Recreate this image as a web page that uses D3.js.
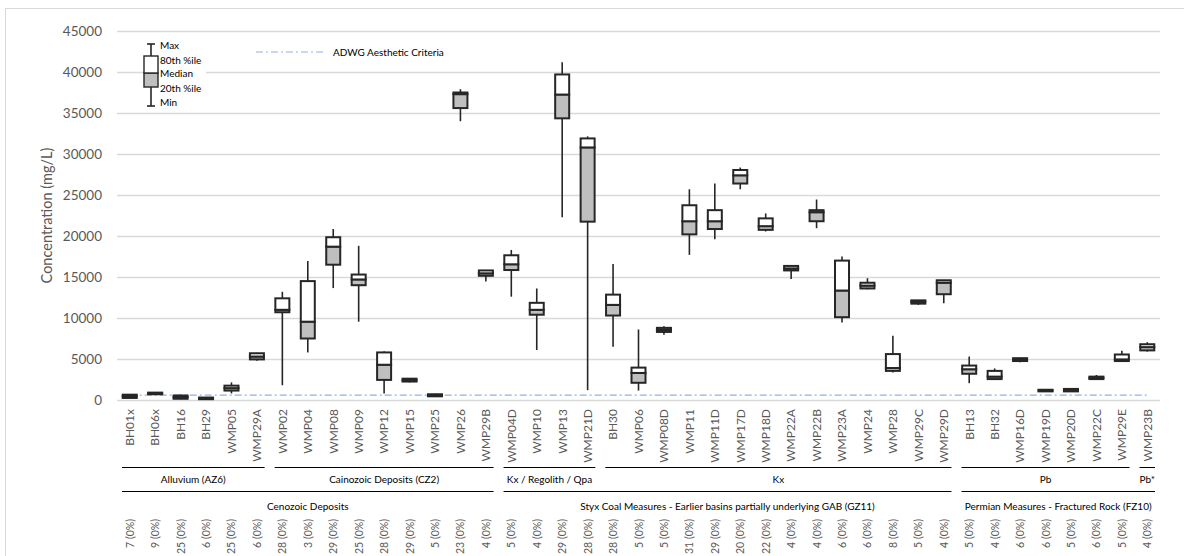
<!DOCTYPE html>
<html>
<head>
<meta charset="utf-8">
<script src="https://cdn.jsdelivr.net/npm/d3@7"></script>
<style>
  html, body { margin: 0; padding: 0; background: #fff; }
  svg { display: block; }
</style>
</head>
<body>
<svg id="chart" width="1184" height="556"></svg>
<script>
// Monitoring bores, in display order
const categories = [
  "BH01x","BH06x","BH16","BH29","WMP05","WMP29A",
  "WMP02","WMP04","WMP08","WMP09","WMP12","WMP15","WMP25","WMP26","WMP29B",
  "WMP04D","WMP10","WMP13","WMP21D",
  "BH30","WMP06","WMP08D","WMP11","WMP11D","WMP17D","WMP18D","WMP22A","WMP22B","WMP23A","WMP24","WMP28","WMP29C","WMP29D",
  "BH13","BH32","WMP16D","WMP19D","WMP20D","WMP22C","WMP29E",
  "WMP23B"
];

// Concentration statistics (mg/L)
const minVals = [
  200, 650, 100, 50, 800, 4800,
  1800, 5800, 13650, 9550, 800, 2150, 400, 34000, 14450,
  12600, 6100, 22300, 1200,
  6500, 1150, 7950, 17700, 19600, 25700, 20550, 14750, 20950, 9450, 13500, 3350, 11600, 11800,
  2050, 2550, 4600, 1000, 1000, 2500, 4700,
  5900
];
const p20Vals = [
  250, 700, 150, 100, 1150, 4950,
  10700, 7500, 16500, 14000, 2450, 2250, 450, 35600, 15150,
  15850, 10400, 34350, 21750,
  10300, 2100, 8300, 20200, 20850, 26400, 20750, 15800, 21800, 10100, 13600, 3550, 11750, 12900,
  3200, 2550, 4750, 1050, 1050, 2550, 4750,
  6050
];
const medianVals = [
  450, 800, 350, 200, 1450, 5300,
  11000, 9550, 18700, 14700, 4300, 2400, 550, 37300, 15450,
  16550, 11000, 37250, 30800,
  11600, 3300, 8550, 21800, 21800, 27400, 21200, 16050, 22900, 13350, 13950, 3900, 12000, 14300,
  3750, 2850, 4950, 1150, 1200, 2700, 4950,
  6450
];
const p80Vals = [
  650, 900, 550, 300, 1750, 5700,
  12400, 14500, 19850, 15300, 5800, 2600, 700, 37500, 15800,
  17650, 11850, 39700, 31900,
  12850, 3950, 8800, 23750, 23150, 28050, 22150, 16350, 23150, 17000, 14300, 5600, 12150, 14600,
  4200, 3550, 5100, 1250, 1350, 2850, 5550,
  6800
];
const maxVals = [
  700, 950, 650, 330, 2150, 5750,
  13200, 16950, 20850, 18800, 5950, 2650, 750, 37900, 15850,
  18300, 13600, 41200, 32150,
  16600, 8600, 9000, 25700, 26400, 28350, 22750, 16400, 24450, 17500, 14850, 7850, 12200, 14650,
  5300, 3850, 5150, 1300, 1400, 3050, 6000,
  7050
];
// Number of samples per bore (and share below detection)
const sampleCounts = [
  7, 9, 25, 6, 25, 6,
  28, 3, 29, 25, 28, 29, 5, 23, 4,
  5, 4, 29, 28,
  28, 5, 5, 31, 29, 20, 22, 4, 4, 6, 6, 8, 5, 4,
  5, 4, 6, 6, 5, 6, 5,
  4
];

// Geological units (first tier) and groundwater systems (second tier)
const unitNames  = ["Alluvium (AZ6)", "Cainozoic Deposits (CZ2)", "Kx / Regolith / Qpa", "Kx", "Pb", "Pb*"];
const unitFirst  = ["BH01x", "WMP02", "WMP04D", "BH30", "BH13", "WMP23B"];
const unitLast   = ["WMP29A", "WMP29B", "WMP21D", "WMP29D", "WMP29E", "WMP23B"];
const systemNames = ["Cenozoic Deposits", "Styx Coal Measures - Earlier basins partially underlying GAB (GZ11)", "Permian Measures - Fractured Rock (FZ10)"];
const systemFirst = ["BH01x", "WMP04D", "BH13"];
const systemLast  = ["WMP29B", "WMP29D", "WMP23B"];

const yTicks = [0, 5000, 10000, 15000, 20000, 25000, 30000, 35000, 40000, 45000];
const adwgAesthetic = 600;

// ---- drawing ----
const svg = d3.select("#chart");
const plot = { left: 117, right: 1160, top: 31, bottom: 400 };
const gridColor = "#d9d9d9";
const boxStroke = "#262626";
const axisText = "#595959";
const font = "Lato, 'Open Sans', sans-serif";

const x = d3.scaleBand().domain(categories).range([plot.left, plot.right]).padding(0);
const y = d3.scaleLinear().domain([0, 45000]).range([plot.bottom, plot.top]);
const boxW = 14;
const cx = d => x(d) + x.bandwidth() / 2;

// chart frame
svg.append("rect")
  .attr("x", 5.5).attr("y", 8.5).attr("width", 1200).attr("height", 600)
  .attr("fill", "none").attr("stroke", gridColor).attr("stroke-width", 1);

// y axis with gridlines
const yAxis = svg.append("g")
  .attr("transform", `translate(${plot.left},0)`)
  .call(d3.axisLeft(y).tickValues(yTicks).tickFormat(d3.format("d"))
    .tickSize(-(plot.right - plot.left)).tickPadding(15));
yAxis.select(".domain").remove();
yAxis.selectAll(".tick line").attr("stroke", gridColor).attr("stroke-width", 1.3);
yAxis.selectAll(".tick text")
  .attr("fill", axisText).style("font-family", font).style("font-size", "13.5px");

svg.append("text")
  .attr("transform", `translate(52,${(plot.top + plot.bottom) / 2}) rotate(-90)`)
  .attr("text-anchor", "middle")
  .attr("fill", axisText).style("font-family", font).style("font-size", "14.5px")
  .text("Concentration (mg/L)");

// ADWG aesthetic criterion
const adwgStyle = { stroke: "#8db4e2", dash: "7,3,2,3" };
svg.append("line")
  .attr("x1", cx(categories[0])).attr("x2", cx(categories[categories.length - 1]))
  .attr("y1", y(adwgAesthetic)).attr("y2", y(adwgAesthetic))
  .attr("stroke", adwgStyle.stroke).attr("stroke-width", 1.2)
  .attr("stroke-dasharray", adwgStyle.dash);

// box plot records
const stats = categories.map((c, i) => ({
  name: c, min: minVals[i], p20: p20Vals[i], med: medianVals[i], p80: p80Vals[i], max: maxVals[i], n: sampleCounts[i]
}));

const boxes = svg.append("g");
// whiskers
boxes.selectAll("line.whisker").data(stats).join("line")
  .attr("class", "whisker")
  .attr("x1", d => cx(d.name)).attr("x2", d => cx(d.name))
  .attr("y1", d => y(d.max)).attr("y2", d => y(d.min))
  .attr("stroke", boxStroke).attr("stroke-width", 1.6);
// lower segment: 20th percentile to median
boxes.selectAll("rect.lower").data(stats).join("rect")
  .attr("class", "lower")
  .attr("x", d => cx(d.name) - boxW / 2).attr("width", boxW)
  .attr("y", d => y(d.med)).attr("height", d => y(d.p20) - y(d.med))
  .attr("fill", "#bfbfbf").attr("stroke", boxStroke).attr("stroke-width", 2);
// upper segment: median to 80th percentile
boxes.selectAll("rect.upper").data(stats).join("rect")
  .attr("class", "upper")
  .attr("x", d => cx(d.name) - boxW / 2).attr("width", boxW)
  .attr("y", d => y(d.p80)).attr("height", d => y(d.med) - y(d.p80))
  .attr("fill", "#ffffff").attr("stroke", boxStroke).attr("stroke-width", 2);

// category labels
const xAxis = svg.append("g")
  .attr("transform", `translate(0,${plot.bottom})`)
  .call(d3.axisBottom(x).tickSize(0));
xAxis.select(".domain").remove();
xAxis.selectAll(".tick text")
  .attr("transform", "rotate(-90)")
  .attr("text-anchor", "end")
  .attr("x", -9).attr("y", 0).attr("dy", "0.36em")
  .attr("fill", axisText).style("font-family", font).style("font-size", "12px");

// sample counts
svg.append("g").selectAll("text").data(stats).join("text")
  .attr("transform", d => `translate(${cx(d.name) + 4},519) rotate(-90)`)
  .attr("text-anchor", "end")
  .attr("fill", axisText).style("font-family", font).style("font-size", "10.5px")
  .text(d => `${d.n} (0%)`);

// grouping brackets
function tier(names, first, last, lineY, textY) {
  const g = svg.append("g");
  names.forEach((nm, i) => {
    const x0 = x(first[i]) + 5, x1 = x(last[i]) + x.bandwidth() - 5;
    g.append("line").attr("x1", x0).attr("x2", x1).attr("y1", lineY).attr("y2", lineY)
      .attr("stroke", "#000").attr("stroke-width", 1);
    g.append("text").attr("x", (x0 + x1) / 2).attr("y", textY)
      .attr("text-anchor", "middle").attr("fill", "#000")
      .style("font-family", font).style("font-size", "10px").text(nm);
  });
}
tier(unitNames, unitFirst, unitLast, 467.5, 483);
tier(systemNames, systemFirst, systemLast, 491.5, 510);

// legend: box plot key
const key = svg.append("g");
key.append("rect").attr("x", 158).attr("y", 40).attr("width", 48).attr("height", 70).attr("fill", "#fff");
key.append("line").attr("x1", 151).attr("x2", 151).attr("y1", 44).attr("y2", 106)
  .attr("stroke", boxStroke).attr("stroke-width", 1.6);
[44, 106].forEach(v => key.append("line").attr("x1", 147).attr("x2", 155).attr("y1", v).attr("y2", v)
  .attr("stroke", boxStroke).attr("stroke-width", 1.6));
key.append("rect").attr("x", 144).attr("y", 73).attr("width", 14).attr("height", 14)
  .attr("fill", "#bfbfbf").attr("stroke", boxStroke).attr("stroke-width", 1.4);
key.append("rect").attr("x", 144).attr("y", 56).attr("width", 14).attr("height", 17)
  .attr("fill", "#fff").attr("stroke", boxStroke).attr("stroke-width", 1.4);
const keyLabels = ["Max", "80th %ile", "Median", "20th %ile", "Min"];
const keyY = [49, 64, 77, 92, 106];
keyLabels.forEach((t, i) => key.append("text").attr("x", 160).attr("y", keyY[i])
  .attr("fill", "#000").style("font-family", font).style("font-size", "10px").text(t));

// legend: ADWG line
key.append("line").attr("x1", 256).attr("x2", 325).attr("y1", 52).attr("y2", 52)
  .attr("stroke", adwgStyle.stroke).attr("stroke-width", 1.2).attr("stroke-dasharray", adwgStyle.dash);
key.append("text").attr("x", 333).attr("y", 55.5)
  .attr("fill", "#000").style("font-family", font).style("font-size", "10px")
  .text("ADWG Aesthetic Criteria");
</script>
</body>
</html>
